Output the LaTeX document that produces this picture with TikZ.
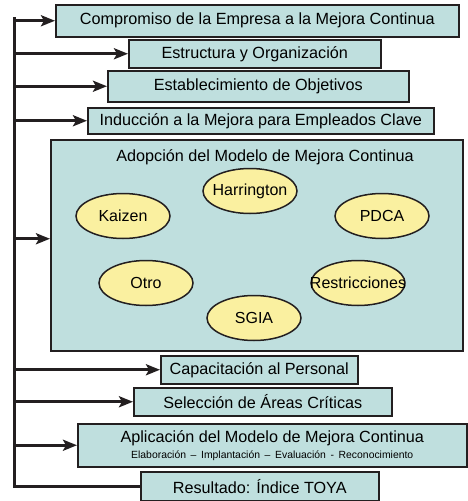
\documentclass[tikz,border=0pt]{standalone}
\usepackage{fontspec}
\setmainfont{Liberation Sans}
\usetikzlibrary{arrows.meta,shapes.geometric}
\definecolor{boxfill}{RGB}{191,223,222}
\definecolor{ovalfill}{RGB}{250,240,160}
\definecolor{ink}{RGB}{35,31,32}
\tikzset{
	box/.style={draw=ink,line width=1.5pt,fill=boxfill,rectangle,anchor=north west,inner sep=0pt,font=\fontsize{16.2}{19}\selectfont},
	oval/.style={draw=ink,line width=1.5pt,fill=ovalfill,ellipse,minimum width=94pt,minimum height=45pt,inner sep=0pt,label={[font=\fontsize{16}{19}\selectfont]center:#1}},
	spine/.style={draw=ink,line width=3pt},
	arr/.style={spine,-{Stealth[length=14pt,width=11pt,inset=3pt]}}
}
\begin{document}
\begin{tikzpicture}[x=1pt,y=-1pt]
		\useasboundingbox (0,0) rectangle (467,501);
		\node[box,minimum width=403pt,minimum height=32pt] (b1) at (55,4) {Compromiso de la Empresa a la Mejora Continua};
		\node[box,minimum width=252pt,minimum height=28pt] (b2) at (128,39) {Estructura y Organización};
		\node[box,minimum width=301pt,minimum height=31pt] (b3) at (107,70) {Establecimiento de Objetivos};
		\node[box,minimum width=346pt,minimum height=26pt] (b4) at (87,107) {Inducción a la Mejora para Empleados Clave};
		\node[box,minimum width=412pt,minimum height=211pt] (big) at (50,139) {};
		\node[font=\fontsize{16.2}{19}\selectfont] (title) at (265,157) {Adopción del Modelo de Mejora Continua};
		\node[oval=Harrington] (harrington) at (250,191) {};
		\node[oval=Kaizen] (kaizen) at (123,216) {};
		\node[oval=PDCA] (pdca) at (382,216) {};
		\node[oval=Otro] (otro) at (146,283) {};
		\node[oval=Restricciones] (restr) at (358,283) {};
		\node[oval=SGIA] (sgia) at (254,318) {};
		\node[box,minimum width=197pt,minimum height=28pt] (b6) at (160,355) {Capacitación al Personal};
		\node[box,minimum width=258pt,minimum height=28pt] (b7) at (133,387) {Selección de Áreas Críticas};
		\node[box,minimum width=389pt,minimum height=43pt,align=center] (b8) at (77,423) {Aplicación del Modelo de Mejora Continua\\[-3pt]{\fontsize{10.4}{12}\selectfont Elaboración \,--\, Implantación \,--\, Evaluación \,-\, Reconocimiento}};
		\node[box,minimum width=238pt,minimum height=29pt] (b9) at (140,471) {Resultado: Índice TOYA};
		\coordinate (top) at (14,17);
		\coordinate (bigin) at ([yshift=6.5pt]big.west);
		\draw[spine] (top) |- (b9.west);
		\foreach \n in {b1,b2,b3,b4,bigin,b6,b7,b8}
			\draw[arr] (top |- \n.west) -- (\n.west);
\end{tikzpicture}
\end{document}
